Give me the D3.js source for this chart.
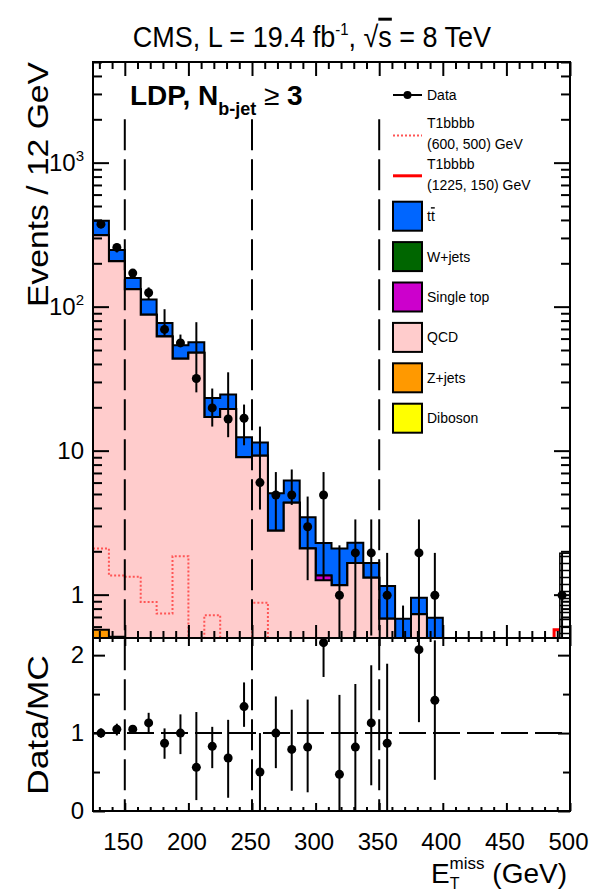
<!DOCTYPE html>
<html>
<head>
<meta charset="utf-8">
<script src="https://cdn.jsdelivr.net/npm/d3@7"></script>
<style>
body{margin:0;background:#fff;}
text{font-family:"Liberation Sans",Arial,Helvetica,sans-serif;fill:#000;}
</style>
</head>
<body>
<svg id="chart" width="589" height="893"></svg>
<script>
// bins: 12.5 GeV from 125 to 500
var binEdges = [125,137.5,150,162.5,175,187.5,200,212.5,225,237.5,250,262.5,275,287.5,300,312.5,
                325,337.5,350,362.5,375,387.5,400,412.5,425,437.5,450,462.5,475,487.5,500];

// stacked backgrounds (events per bin)
var diboson   = [0,0,0,0,0,0,0,0,0,0,0,0,0,0,0,0,0,0,0,0,0,0,0,0,0,0,0,0,0,0];
var zjets     = [0.57,0.51,0,0,0,0,0,0,0,0,0,0,0,0,0,0,0,0,0,0,0,0,0,0,0,0,0,0,0,0];
var qcd       = [313,206,132,88,62,43.4,47.8,17.1,19.5,9.0,9.2,2.78,4.35,2.09,1.26,1.16,1.66,1.31,0.68,0,0.73,0,0,0,0,0,0,0,0,0];
var singleTop = [0,0,0,0,0,0,0,0,0,0,0,0,0,0,0.1,0,0,0,0,0,0,0,0,0,0,0,0,0,0,0];
var wjets     = [0,0,0,0,0,0,0,0,0,0,0,0,0,0,0,0,0,0,0,0,0,0,0,0,0,0,0,0,0,0];
var ttbar     = [81,41,26,24,15,10.6,8.9,6.1,5.0,3.4,2.2,2.28,1.85,1.36,0.92,0.93,0.63,0.35,0.47,0.68,0.22,0.69,0,0,0,0,0,0,0,0];

// signals
var sigA = [2.09,1.36,1.33,0.89,0.74,1.85,0,0.72,0,0,0.88,0,0,0,0,0,0,0,0,0,0,0,0,0,0,0,0,0,0,0]; // (600,500)
var sigB = [0,0,0,0,0,0,0,0,0,0,0,0,0,0,0,0,0,0,0,0,0,0,0,0,0,0,0,0,0,0.57];                 // (1225,150)

// data and error bar ends
var dataVal = [374,258,171,125,69.5,56,31.7,19.8,16.6,16.8,6.0,4.92,4.92,2.96,4.92,0.99,1.95,1.95,0.99,0,1.95,0.99,0,0,0,0,0,0,0,0.99];
var dataHi  = [398,274,181,136,96,64,78,27,35,20.9,14.7,7.1,7.4,4.8,7.1,2.2,3.33,3.33,1.95,0.84,3.33,1.95,0,0,0,0,0,0,0,1.94];
var dataLo  = [351,238,160,112,62,53,25.4,14.7,12.4,10.9,3.9,2.8,4.2,1.26,1.26,0.1,0.1,0.52,0.1,0.1,0.1,0.1,0,0,0,0,0,0,0,0.1];

// last-bin uncertainty box (GeV range, events)
var lastBox = [{x0: 492, x1: 500, lo: 0.3, hi: 1.94}];

// ratio panel
var ratioVal = [1.0,1.05,1.05,1.13,0.87,1.0,0.56,0.83,0.68,1.34,0.5,1.0,0.79,0.82,2.16,0.47,0.82,1.13,0.87,null,2.07,1.42,null,null,null,null,null,null,null,null];
var ratioHi  = [1.06,1.12,1.1,1.26,1.06,1.24,1.27,1.08,1.17,1.65,1.0,1.47,1.3,1.43,2.6,1.49,1.63,1.87,1.89,null,3,2.19,null,null,null,null,null,null,null,null];
var ratioLo  = [0.94,0.97,0.99,1.0,0.67,0.73,0.14,0.55,0.17,1.08,0,0.55,0.26,0.24,1.72,0,0,0.33,0,null,1.14,0.4,null,null,null,null,null,null,null,null];

var cutLines = [150, 250, 350];
var cutTop = 2000;

var xMajor = [150,200,250,300,350,400,450,500];
var yLabelVals = [1,10,100,1000];
var yMinor = [0.6,0.7,0.8,0.9,2,3,4,5,6,7,8,9,20,30,40,50,60,70,80,90,200,300,400,500,600,700,800,900,2000,3000,4000,5000];
var rMajor = [0,1,2];
var rMinor = [0.5,1.5];

var legendNames = [["Data"],["T1bbbb","(600, 500) GeV"],["T1bbbb","(1225, 150) GeV"],["tt"],["W+jets"],["Single top"],["QCD"],["Z+jets"],["Diboson"]];

var m = {l: 93, r: 570, t: 62, mid: 638, b: 811};
var svg = d3.select('#chart');

var x = d3.scaleLinear().domain([125, 500]).range([m.l, m.r]);
var y = d3.scaleLog().domain([0.5, 5000]).range([m.mid, m.t]);
var yr = d3.scaleLinear().domain([0, 2.22]).range([m.b, m.mid]);
function yv(v){ return y(Math.max(v, 1e-3)); }
function bc(i){ return (binEdges[i] + binEdges[i+1]) / 2; }

var defs = svg.append('defs');
defs.append('clipPath').attr('id','clipMain').append('rect')
  .attr('x', m.l).attr('y', m.t).attr('width', m.r - m.l).attr('height', m.mid - m.t);
defs.append('clipPath').attr('id','clipRatio').append('rect')
  .attr('x', m.l).attr('y', m.mid).attr('width', m.r - m.l).attr('height', m.b - m.mid);
var hatch = defs.append('pattern').attr('id','hatch').attr('patternUnits','userSpaceOnUse')
  .attr('width', 8).attr('height', 7);
hatch.append('rect').attr('width', 8).attr('height', 7).attr('fill', '#fff');
hatch.append('line').attr('x1',0).attr('x2',8).attr('y1',3.5).attr('y2',3.5).attr('stroke','#000').attr('stroke-width',1.5);

// ---- stacked histogram ----
var stack = [
  {name: 'Diboson', vals: diboson, color: '#ffff00'},
  {name: 'Z+jets', vals: zjets, color: '#ff9900'},
  {name: 'QCD', vals: qcd, color: '#ffcccc'},
  {name: 'Single top', vals: singleTop, color: '#cc00cc'},
  {name: 'W+jets', vals: wjets, color: '#006600'},
  {name: 'tt', vals: ttbar, color: '#0066ff'}
];
var run = binEdges.slice(1).map(function(){ return 0; });
stack.forEach(function(s){
  s.cum = s.vals.map(function(v, i){ run[i] += v; return run[i]; });
});

function stepArea(vals){
  var p = d3.path();
  p.moveTo(x(binEdges[0]), m.mid + 6);
  vals.forEach(function(v, i){
    p.lineTo(x(binEdges[i]), yv(v));
    p.lineTo(x(binEdges[i+1]), yv(v));
  });
  p.lineTo(x(binEdges[binEdges.length-1]), m.mid + 6);
  p.closePath();
  return p.toString();
}
function stepLine(vals){
  var p = d3.path();
  vals.forEach(function(v, i){
    if (i === 0) p.moveTo(x(binEdges[0]), yv(v)); else p.lineTo(x(binEdges[i]), yv(v));
    p.lineTo(x(binEdges[i+1]), yv(v));
  });
  return p.toString();
}

var main = svg.append('g').attr('clip-path', 'url(#clipMain)');
main.selectAll('path.layer')
  .data(stack.slice().reverse())
  .enter().append('path')
  .attr('class', 'layer')
  .attr('d', function(d){ return stepArea(d.cum); })
  .attr('fill', function(d){ return d.color; })
  .attr('stroke', '#000').attr('stroke-width', 2).attr('stroke-linejoin', 'miter');

// signals
main.append('path').attr('d', stepLine(sigA))
  .attr('fill', 'none').attr('stroke', '#ff5555').attr('stroke-width', 2).attr('stroke-dasharray', '2,2');
main.append('path').attr('d', stepLine(sigB))
  .attr('fill', 'none').attr('stroke', '#ff0000').attr('stroke-width', 3);

// last bin box
main.selectAll('rect.band').data(lastBox).enter().append('rect')
  .attr('class', 'band')
  .attr('x', function(d){ return x(d.x0); })
  .attr('width', function(d){ return x(d.x1) - x(d.x0); })
  .attr('y', function(d){ return y(d.hi); })
  .attr('height', function(d){ return y(d.lo) - y(d.hi); })
  .attr('fill', 'url(#hatch)').attr('stroke', '#000').attr('stroke-width', 1.5);

// data
var dataPts = dataVal.map(function(v, i){ return {i: i, v: v, lo: dataLo[i], hi: dataHi[i]}; })
  .filter(function(d){ return d.hi > 0; });
main.selectAll('line.derr').data(dataPts).enter().append('line')
  .attr('class', 'derr')
  .attr('x1', function(d){ return x(bc(d.i)); }).attr('x2', function(d){ return x(bc(d.i)); })
  .attr('y1', function(d){ return yv(d.lo); }).attr('y2', function(d){ return yv(d.hi); })
  .attr('stroke', '#000').attr('stroke-width', 2);
main.selectAll('circle.dpt').data(dataPts.filter(function(d){ return d.v > 0; })).enter().append('circle')
  .attr('class', 'dpt')
  .attr('cx', function(d){ return x(bc(d.i)); })
  .attr('cy', function(d){ return y(d.v); })
  .attr('r', 4.5).attr('fill', '#000');

// ---- ratio panel ----
var ratio = svg.append('g').attr('clip-path', 'url(#clipRatio)');
var rPts = ratioVal.map(function(v, i){ return {i: i, v: v, lo: ratioLo[i], hi: ratioHi[i]}; })
  .filter(function(d){ return d.v !== null; });
ratio.append('line')
  .attr('x1', x(125)).attr('x2', x(500)).attr('y1', yr(1)).attr('y2', yr(1))
  .attr('stroke', '#000').attr('stroke-width', 2).attr('stroke-dasharray', '27,7');
ratio.selectAll('line.rerr').data(rPts).enter().append('line')
  .attr('class', 'rerr')
  .attr('x1', function(d){ return x(bc(d.i)); }).attr('x2', function(d){ return x(bc(d.i)); })
  .attr('y1', function(d){ return yr(d.lo); }).attr('y2', function(d){ return yr(d.hi); })
  .attr('stroke', '#000').attr('stroke-width', 2);
ratio.selectAll('circle.rpt').data(rPts).enter().append('circle')
  .attr('class', 'rpt')
  .attr('cx', function(d){ return x(bc(d.i)); })
  .attr('cy', function(d){ return yr(d.v); })
  .attr('r', 4.5).attr('fill', '#000');

// cut lines
svg.selectAll('line.cut').data(cutLines).enter().append('line')
  .attr('class', 'cut')
  .attr('x1', function(d){ return x(d); }).attr('x2', function(d){ return x(d); })
  .attr('y1', y(cutTop)).attr('y2', m.b)
  .attr('stroke', '#000').attr('stroke-width', 2).attr('stroke-dasharray', '31,9');

// ---- axes / ticks ----
var xMinor = d3.range(130, 500, 10).filter(function(v){ return v % 50 !== 0; });
function tickAxis(axis, at, size){
  var g = svg.append('g').attr('transform', at).call(axis.tickSize(size).tickFormat(''));
  g.select('.domain').remove();
  g.selectAll('.tick line').attr('stroke', '#000').attr('stroke-width', 2);
  return g;
}
// main x ticks
tickAxis(d3.axisTop(x).tickValues(xMajor), 'translate(0,' + m.t + ')', -14);
tickAxis(d3.axisTop(x).tickValues(xMinor), 'translate(0,' + m.t + ')', -7);
tickAxis(d3.axisBottom(x).tickValues(xMajor), 'translate(0,' + m.mid + ')', -13);
tickAxis(d3.axisBottom(x).tickValues(xMinor), 'translate(0,' + m.mid + ')', -7);
// ratio x ticks
tickAxis(d3.axisTop(x).tickValues(xMajor), 'translate(0,' + m.mid + ')', -8);
tickAxis(d3.axisTop(x).tickValues(xMinor), 'translate(0,' + m.mid + ')', -4);
tickAxis(d3.axisBottom(x).tickValues(xMajor), 'translate(0,' + m.b + ')', -8);
tickAxis(d3.axisBottom(x).tickValues(xMinor), 'translate(0,' + m.b + ')', -4);
// main y ticks
tickAxis(d3.axisLeft(y).tickValues(yLabelVals), 'translate(' + m.l + ',0)', -16);
tickAxis(d3.axisLeft(y).tickValues(yMinor), 'translate(' + m.l + ',0)', -9);
tickAxis(d3.axisRight(y).tickValues(yLabelVals), 'translate(' + m.r + ',0)', -16);
tickAxis(d3.axisRight(y).tickValues(yMinor), 'translate(' + m.r + ',0)', -9);
// ratio y ticks
tickAxis(d3.axisLeft(yr).tickValues(rMajor), 'translate(' + m.l + ',0)', -12);
tickAxis(d3.axisLeft(yr).tickValues(rMinor), 'translate(' + m.l + ',0)', -7);
tickAxis(d3.axisRight(yr).tickValues(rMajor), 'translate(' + m.r + ',0)', -12);
tickAxis(d3.axisRight(yr).tickValues(rMinor), 'translate(' + m.r + ',0)', -7);

// frames
svg.append('rect').attr('x', m.l).attr('y', m.t).attr('width', m.r - m.l).attr('height', m.mid - m.t)
  .attr('fill', 'none').attr('stroke', '#000').attr('stroke-width', 2);
svg.append('rect').attr('x', m.l).attr('y', m.mid).attr('width', m.r - m.l).attr('height', m.b - m.mid)
  .attr('fill', 'none').attr('stroke', '#000').attr('stroke-width', 2);

// labels
var xl = svg.append('g').attr('transform', 'translate(0,' + m.b + ')')
  .call(d3.axisBottom(x).tickValues(xMajor).tickSize(0).tickPadding(22).tickFormat(d3.format('d')));
xl.select('.domain').remove();
xl.attr('font-size', 24).attr('font-family', null);
xl.selectAll('.tick text').attr('dx', -2);

var yl = svg.append('g').attr('transform', 'translate(' + m.l + ',0)')
  .call(d3.axisLeft(y).tickValues(yLabelVals).tickSize(0).tickPadding(9).tickFormat(''));
yl.select('.domain').remove();
yl.attr('font-size', 24).attr('font-family', null);
yl.selectAll('.tick text').each(function(d){
  var t = d3.select(this), e = Math.round(Math.log10(d));
  if (e < 2) { t.text(String(d)); }
  else { t.text('10'); t.append('tspan').attr('font-size', 15).attr('dy', -10).text(e); }
});

var rl = svg.append('g').attr('transform', 'translate(' + m.l + ',0)')
  .call(d3.axisLeft(yr).tickValues(rMajor).tickSize(0).tickPadding(9).tickFormat(d3.format('d')));
rl.select('.domain').remove();
rl.attr('font-size', 24).attr('font-family', null);

// axis titles
svg.append('text').attr('transform', 'translate(48,' + m.t + ') rotate(-90)')
  .attr('text-anchor', 'end').attr('font-size', 30)
  .attr('textLength', 245).attr('lengthAdjust', 'spacingAndGlyphs')
  .text('Events / 12 GeV');
svg.append('text').attr('transform', 'translate(48,' + (m.mid + 17) + ') rotate(-90)')
  .attr('text-anchor', 'end').attr('font-size', 30)
  .attr('textLength', 140).attr('lengthAdjust', 'spacingAndGlyphs')
  .text('Data/MC');

var xt = svg.append('text').attr('x', 567).attr('y', 883).attr('text-anchor', 'end').attr('font-size', 28);
xt.append('tspan').text('E');
xt.append('tspan').attr('font-size', 16).attr('dy', 6).text('T');
xt.append('tspan').attr('font-size', 17).attr('dx', -10).attr('dy', -20).text('miss');
xt.append('tspan').attr('dy', 14).text(' (GeV)');

// title
var tt = svg.append('text').attr('transform', 'translate(312,47) scale(1,1.1)')
  .attr('text-anchor', 'middle').attr('font-size', 27);
tt.append('tspan').text('CMS, L = 19.4 fb');
tt.append('tspan').attr('font-size', 15).attr('dy', -11).text('-1');
tt.append('tspan').attr('dy', 11).text(', \u221A');
tt.append('tspan').style('text-decoration', 'overline').text('s');
tt.append('tspan').text(' = 8 TeV');

// region label
var lab = svg.append('text').attr('x', 130).attr('y', 105).attr('font-size', 28).attr('font-weight', 'bold');
lab.append('tspan').text('LDP, N');
lab.append('tspan').attr('font-size', 18).attr('dy', 10).text('b-jet');
lab.append('tspan').attr('dy', -10).attr('font-weight', 'normal').text(' \u2265 ');
lab.append('tspan').text('3');

// legend
var lg = svg.append('g').attr('transform', 'translate(393,0)');
var rowY = function(i){ return 95 + i * 40.4; };
legendNames.forEach(function(names, i){
  var cy = rowY(i);
  var g = lg.append('g');
  if (i === 0) {
    g.append('line').attr('x1', 0).attr('x2', 29).attr('y1', cy).attr('y2', cy).attr('stroke', '#000').attr('stroke-width', 2);
    g.append('circle').attr('cx', 14.5).attr('cy', cy).attr('r', 4).attr('fill', '#000');
  } else if (i === 1) {
    g.append('line').attr('x1', 0).attr('x2', 29).attr('y1', cy).attr('y2', cy)
      .attr('stroke', '#ff5555').attr('stroke-width', 2).attr('stroke-dasharray', '2,2');
  } else if (i === 2) {
    g.append('line').attr('x1', 0).attr('x2', 29).attr('y1', cy).attr('y2', cy).attr('stroke', '#ff0000').attr('stroke-width', 3);
  } else {
    var s = stack.filter(function(d){ return d.name === names[0]; })[0];
    g.append('rect').attr('x', 0).attr('y', cy - 14.5).attr('width', 29).attr('height', 29)
      .attr('fill', s.color).attr('stroke', '#000').attr('stroke-width', 2);
  }
  if (names.length === 1) {
    var t = g.append('text').attr('x', 34).attr('y', cy + 5).attr('font-size', 14);
    if (names[0] === 'tt') {
      t.append('tspan').text('t');
      t.append('tspan').style('text-decoration', 'overline').text('t');
    } else t.text(names[0]);
  } else {
    g.append('text').attr('x', 34).attr('y', cy - 7).attr('font-size', 14).text(names[0]);
    g.append('text').attr('x', 34).attr('y', cy + 14).attr('font-size', 14).text(names[1]);
  }
});
</script>
</body>
</html>
